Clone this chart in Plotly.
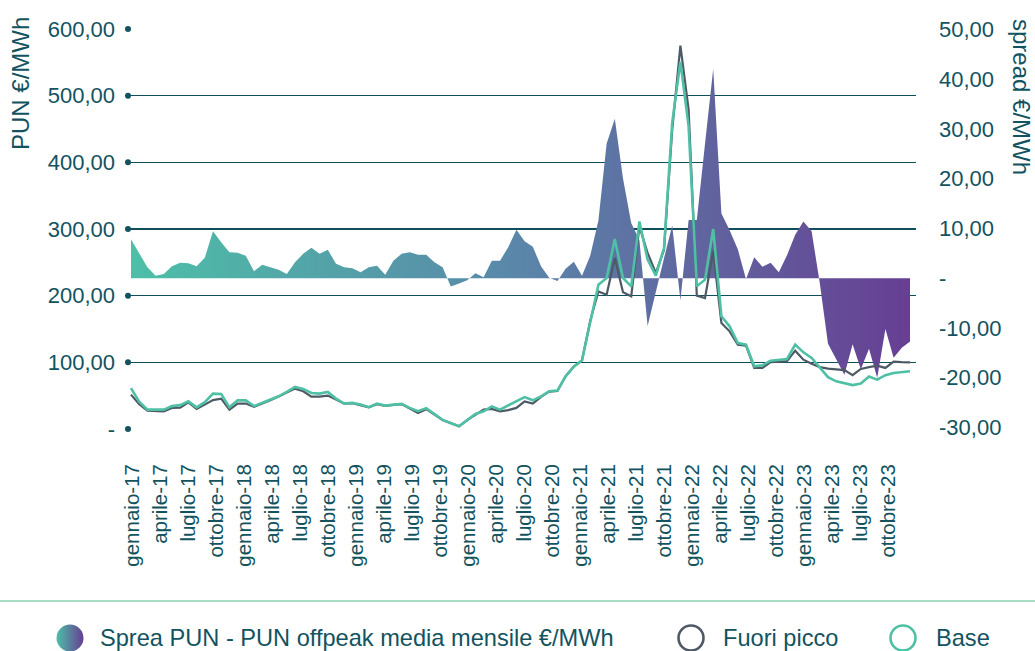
import plotly.graph_objects as go

# ---------------- data ----------------
SPREAD = [
    7.8, 5.0, 2.2, 0.5, 0.85, 2.4, 3.1, 3.0, 2.4, 4.1,
    9.4, 7.2, 5.2, 5.1, 4.5, 1.4, 2.7, 2.2, 1.7, 0.85,
    3.2, 4.9, 6.1, 4.9, 5.7, 2.9, 2.2, 2.0, 1.2, 2.2,
    2.5, 0.7, 3.5, 4.9, 5.2, 4.7, 4.7, 3.2, 2.2, -1.7,
    -1.05, -0.4, 1.0, 0.2, 3.5, 3.5, 6.2, 9.7, 7.4, 6.3,
    2.4, 0.1, -0.55, 1.9, 3.3, 0.5, 4.5, 11.6, 27.0, 32.0,
    20.0, 11.1, 7.6, -9.6, -2.8, 4.0, 10.6, -4.5, 11.7, 11.7,
    27.0, 42.0, 13.0, 9.6, 5.8, -0.2, 4.2, 2.3, 3.1, 1.2,
    4.6, 8.7, 11.4, 9.4, -1.0, -13.2, -16.3, -19.4, -13.3, -18.3,
    -14.2, -20.0, -10.2, -16.0, -14.0, -12.7,
]

FUORI_PICCO = [
    51.6, 37.3, 27.6, 26.8, 26.5, 31.6, 32.1, 40.0, 30.1, 36.6,
    43.3, 45.6, 29.1, 38.1, 38.1, 33.1, 38.8, 43.3, 48.6, 55.0,
    60.6, 56.5, 48.6, 48.6, 50.1, 44.1, 38.1, 38.8, 35.8, 32.5,
    37.3, 34.6, 36.1, 37.3, 30.6, 24.1, 29.8, 21.6, 13.3, 8.8,
    4.0, 13.3, 20.5, 29.0, 30.1, 26.5, 28.3, 31.6, 41.4, 38.1,
    48.1, 56.1, 57.1, 79.0, 93.6, 103.0, 162.5, 206.4, 201.5, 256.5,
    205.0, 199.0, 304.0, 264.0, 234.0, 269.0, 449.0, 575.0, 479.0, 200.0,
    196.5, 266.4, 159.0, 146.5, 126.5, 125.0, 91.6, 91.6, 100.3, 101.0,
    101.8, 117.5, 104.0, 98.0, 92.8, 90.6, 89.5, 88.3, 80.8, 90.1,
    92.8, 95.0, 91.6, 101.0, 100.3, 100.0,
]

BASE = [
    61.3, 41.1, 29.1, 29.1, 29.1, 34.3, 35.8, 41.5, 32.5, 40.3,
    53.1, 52.6, 32.5, 43.0, 43.0, 34.3, 39.1, 44.1, 49.0, 55.6,
    63.1, 60.1, 54.1, 53.1, 55.6, 45.6, 38.1, 39.1, 36.6, 32.8,
    38.1, 35.1, 36.6, 37.6, 31.6, 26.8, 31.3, 23.1, 13.6, 8.8,
    4.0, 13.3, 22.6, 26.5, 34.0, 29.1, 35.5, 41.5, 47.8, 43.0,
    49.0, 56.5, 57.6, 79.0, 93.6, 103.0, 162.5, 216.5, 226.5, 285.0,
    226.5, 214.0, 311.4, 254.0, 230.0, 271.5, 459.0, 551.0, 454.0, 214.0,
    224.0, 300.0, 169.0, 154.0, 129.0, 126.5, 94.0, 95.5, 102.5, 104.0,
    105.0, 126.5, 115.0, 106.6, 92.8, 77.8, 71.5, 68.8, 65.8, 68.1,
    78.6, 74.1, 80.7, 84.1, 85.3, 86.5,
]

TICK_LABELS = [
    "gennaio-17", "aprile-17", "luglio-17", "ottobre-17",
    "gennaio-18", "aprile-18", "luglio-18", "ottobre-18",
    "gennaio-19", "aprile-19", "luglio-19", "ottobre-19",
    "gennaio-20", "aprile-20", "luglio-20", "ottobre-20",
    "gennaio-21", "aprile-21", "luglio-21", "ottobre-21",
    "gennaio-22", "aprile-22", "luglio-22", "ottobre-22",
    "gennaio-23", "aprile-23", "luglio-23", "ottobre-23",
]

PUN_TICKS = [0, 100, 200, 300, 400, 500, 600]
PUN_TICK_TEXT = ["-", "100,00", "200,00", "300,00", "400,00", "500,00", "600,00"]
SPREAD_TICKS = [-30, -20, -10, 0, 10, 20, 30, 40, 50]
SPREAD_TICK_TEXT = ["-30,00", "-20,00", "-10,00", "-", "10,00", "20,00", "30,00", "40,00", "50,00"]

LEGEND_NAMES = ["Sprea PUN - PUN offpeak media mensile €/MWh", "Fuori picco", "Base"]

# ---------------- style / layout constants ----------------
W, H = 1035, 651
PLOT_L, PLOT_R, PLOT_T, PLOT_B = 128, 916, 29, 429
DARK = "#12535f"
GRID = "#0e4f5b"
TEAL = "#4fc0a5"
GRAY = "#4d5a66"
PURPLE = "#673e93"
GREEN_START = "#4dbfa7"
FONT = "Liberation Sans, Arial, sans-serif"

IDX_RANGE = [-0.366, 95.73]     # data index axis
MONTH_RANGE = [-0.43, 84.0]     # month axis carrying the tick labels
PUN_RANGE = [0, 600]
SPREAD_RANGE = [-30.3, 50.05]

dom_x = [PLOT_L / W, PLOT_R / W]
dom_y = [(H - PLOT_B) / H, (H - PLOT_T) / H]

idx = list(range(len(SPREAD)))
label_pos = [3 * j for j in range(len(TICK_LABELS))]

fig = go.Figure()

# spread area (main subplot, right axis)
fig.add_trace(go.Scatter(
    x=idx, y=SPREAD, mode="none", fill="tozeroy",
    fillgradient=dict(type="horizontal",
                      colorscale=[[0, GREEN_START], [0.5, "#5a86a9"], [1, PURPLE]]),
    xaxis="x", yaxis="y", showlegend=False, hoverinfo="skip",
))

# lines (overlay subplot, left axis)
fig.add_trace(go.Scatter(
    x=idx, y=FUORI_PICCO, mode="lines", line=dict(color=GRAY, width=2.2),
    xaxis="x", yaxis="y2", showlegend=False, hoverinfo="skip",
))
fig.add_trace(go.Scatter(
    x=idx, y=BASE, mode="lines", line=dict(color=TEAL, width=2.6),
    xaxis="x", yaxis="y2", showlegend=False, hoverinfo="skip",
))

# dots at the start of every grid line
fig.add_trace(go.Scatter(
    x=[IDX_RANGE[0]] * len(PUN_TICKS), y=PUN_TICKS, mode="markers",
    marker=dict(size=6, color=DARK), cliponaxis=False,
    xaxis="x", yaxis="y2", showlegend=False, hoverinfo="skip",
))

# empty trace that carries the month tick-label axis
fig.add_trace(go.Scatter(x=[None], y=[None], xaxis="x2", yaxis="y",
                         showlegend=False, hoverinfo="skip"))

# custom legend (own invisible axes at the bottom)
LEG_X = [70, 691, 903]
LEG_TEXT_X = [98, 721, 934]
LEG_Y = H - 638
fig.add_trace(go.Scatter(
    x=[LEG_X[0]], y=[LEG_Y], mode="markers",
    marker=dict(size=27, color=GREEN_START, gradient=dict(type="horizontal", color=PURPLE)),
    xaxis="x3", yaxis="y3", cliponaxis=False, showlegend=False, hoverinfo="skip",
))
fig.add_trace(go.Scatter(
    x=[LEG_X[1]], y=[LEG_Y], mode="markers",
    marker=dict(size=25, symbol="circle-open", color=GRAY, line=dict(width=2.6, color=GRAY)),
    xaxis="x3", yaxis="y3", cliponaxis=False, showlegend=False, hoverinfo="skip",
))
fig.add_trace(go.Scatter(
    x=[LEG_X[2]], y=[LEG_Y], mode="markers",
    marker=dict(size=25, symbol="circle-open", color=TEAL, line=dict(width=2.6, color=TEAL)),
    xaxis="x3", yaxis="y3", cliponaxis=False, showlegend=False, hoverinfo="skip",
))

annotations = [
    dict(text="PUN €/MWh", x=20 / W, y=(H - 84) / H, xref="paper", yref="paper",
         textangle=-90, showarrow=False, xanchor="center", yanchor="middle",
         font=dict(size=24, color=DARK, family=FONT)),
    dict(text="spread €/MWh", x=1021 / W, y=(H - 97) / H, xref="paper", yref="paper",
         textangle=90, showarrow=False, xanchor="center", yanchor="middle",
         font=dict(size=24, color=DARK, family=FONT)),
]
for name, tx in zip(LEGEND_NAMES, LEG_TEXT_X):
    annotations.append(dict(
        text=name, x=tx / W, y=(H - 638) / H, xref="paper", yref="paper",
        showarrow=False, xanchor="left", yanchor="middle",
        font=dict(size=23.6, color=DARK, family=FONT),
    ))

fig.update_layout(
    template="none",
    width=W, height=H,
    margin=dict(l=0, r=0, t=0, b=0, pad=0, autoexpand=False),
    paper_bgcolor="white", plot_bgcolor="white",
    font=dict(family=FONT, color=DARK),
    hovermode=False,
    showlegend=False,
    xaxis=dict(domain=dom_x, range=IDX_RANGE, visible=False, anchor="y", automargin=False),
    xaxis2=dict(overlaying="x", anchor="y", side="bottom", range=MONTH_RANGE,
                tickmode="array", tickvals=label_pos, ticktext=TICK_LABELS,
                tickangle=-90, ticks="", showgrid=False, zeroline=False, showline=False,
                automargin=False,
                tickfont=dict(size=20.5, color=DARK, family=FONT), ticklabelstandoff=30),
    yaxis=dict(domain=dom_y, range=SPREAD_RANGE, side="right", anchor="x",
               tickmode="array", tickvals=SPREAD_TICKS, ticktext=SPREAD_TICK_TEXT,
               ticks="", showgrid=False, zeroline=False, showline=False, automargin=False,
               tickfont=dict(size=22, color=DARK, family=FONT), ticklabelstandoff=22),
    yaxis2=dict(overlaying="y", side="left", anchor="x", range=PUN_RANGE,
                tickmode="array", tickvals=PUN_TICKS, ticktext=PUN_TICK_TEXT,
                ticks="", showgrid=True, gridcolor=GRID, gridwidth=1.2,
                zeroline=False, showline=False, automargin=False,
                tickfont=dict(size=22, color=DARK, family=FONT), ticklabelstandoff=12),
    xaxis3=dict(domain=[0, 1], range=[0, W], visible=False, anchor="y3", automargin=False),
    yaxis3=dict(domain=[0, 0.1], range=[0, 0.1 * H], visible=False, anchor="x3", automargin=False),
    shapes=[dict(type="line", xref="paper", yref="paper", x0=0, x1=1,
                 y0=(H - 601) / H, y1=(H - 601) / H,
                 line=dict(color="#8ed1ae", width=1.5))],
    annotations=annotations,
)

# remove the browser's default page margin so the figure starts at the window's corner
fig.write_html(
    "out.html",
    config={"displayModeBar": False, "staticPlot": True},
    post_script="document.body.style.margin='0';document.body.style.overflow='hidden';",
)
